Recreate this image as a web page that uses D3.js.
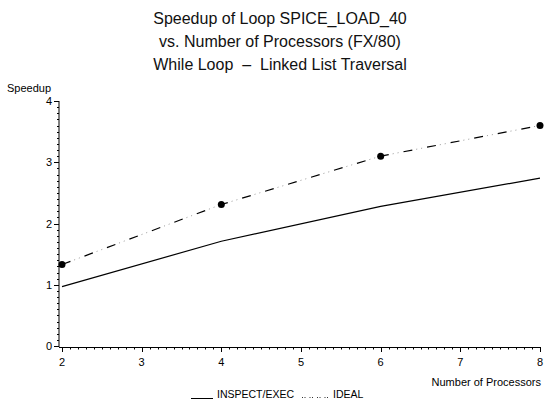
<!DOCTYPE html>
<html><head><meta charset="utf-8">
<script src="https://cdn.jsdelivr.net/npm/d3@7"></script>
<style>
html,body{margin:0;padding:0;background:#fff;}
svg{display:block;font-family:"Liberation Sans",Arial,sans-serif;}
</style></head>
<body>
<script>
const titleLines = ["Speedup of Loop SPICE_LOAD_40", "vs. Number of Processors (FX/80)", "While Loop \u00a0\u2013\u00a0 Linked List Traversal"];
const processors = [2, 4, 6, 8];
const inspectExec = [0.97, 1.71, 2.28, 2.74];
const ideal = [1.33, 2.31, 3.10, 3.60];
const xTicks = [2, 3, 4, 5, 6, 7, 8];
const yTicks = [0, 1, 2, 3, 4];
const seriesNames = ["INSPECT/EXEC", "IDEAL"];

const W = 547, H = 411;
const svg = d3.select("body").append("svg").attr("width", W).attr("height", H);

const x = d3.scaleLinear().domain([2, 8]).range([62, 540]);
const y = d3.scaleLinear().domain([0, 4]).range([346, 101]);

// title
const tl = [24, 47, 70];
titleLines.forEach((t, i) => {
  svg.append("text").attr("x", 280).attr("y", tl[i]).attr("text-anchor", "middle")
    .attr("font-size", 16).attr("fill", "#111").text(t);
});

// y axis
const yAxisX = 59;
const yAxis = svg.append("g");
yAxis.append("line").attr("x1", yAxisX).attr("x2", yAxisX).attr("y1", y(4)).attr("y2", 347).attr("stroke", "#000");
const yMinor = d3.range(0, 40).map(d => d / 10).filter(d => Math.abs(d - Math.round(d)) > 1e-6);
yAxis.selectAll("line.minor").data(yMinor).join("line").attr("class", "minor")
  .attr("x1", yAxisX - 2).attr("x2", yAxisX).attr("y1", d => Math.round(y(d)) + 0.5).attr("y2", d => Math.round(y(d)) + 0.5)
  .attr("stroke", "#000");
yAxis.selectAll("line.major").data(yTicks).join("line").attr("class", "major")
  .attr("x1", yAxisX - 5).attr("x2", yAxisX).attr("y1", d => Math.round(y(d)) + 0.5).attr("y2", d => Math.round(y(d)) + 0.5)
  .attr("stroke", "#000");
yAxis.selectAll("text").data(yTicks).join("text")
  .attr("x", yAxisX - 7).attr("y", d => y(d) + 4).attr("text-anchor", "end")
  .attr("font-size", 11).text(d => d);
svg.append("text").attr("x", 7).attr("y", 92).attr("font-size", 11).text("Speedup");

// x axis
const xAxisY = 347;
const xAxis = svg.append("g");
xAxis.append("line").attr("x1", yAxisX).attr("x2", x(8) + 1).attr("y1", xAxisY + 0.5).attr("y2", xAxisY + 0.5).attr("stroke", "#000");
const xMinor = d3.range(20, 80).map(d => d / 10).filter(d => Math.abs(d - Math.round(d)) > 1e-6);
xAxis.selectAll("line.minor").data(xMinor).join("line").attr("class", "minor")
  .attr("x1", d => Math.round(x(d)) + 0.5).attr("x2", d => Math.round(x(d)) + 0.5)
  .attr("y1", xAxisY).attr("y2", xAxisY + 2.5).attr("stroke", "#000");
xAxis.selectAll("line.major").data(xTicks).join("line").attr("class", "major")
  .attr("x1", d => Math.round(x(d)) + 0.5).attr("x2", d => Math.round(x(d)) + 0.5)
  .attr("y1", xAxisY).attr("y2", xAxisY + 5).attr("stroke", "#000");
xAxis.selectAll("text").data(xTicks).join("text")
  .attr("x", d => x(d)).attr("y", 366).attr("text-anchor", "middle")
  .attr("font-size", 11).text(d => d);
svg.append("text").attr("x", 541).attr("y", 386).attr("text-anchor", "end")
  .attr("font-size", 11).text("Number of Processors");

// lines
const line = d3.line().x(d => x(d[0])).y(d => y(d[1]));
const idealPts = processors.map((p, i) => [p, ideal[i]]);
svg.append("path").datum(processors.map((p, i) => [p, inspectExec[i]]))
  .attr("d", line).attr("fill", "none").attr("stroke", "#000").attr("stroke-width", 1.2);
// dashes
svg.append("path").datum(idealPts)
  .attr("d", line).attr("fill", "none").attr("stroke", "#000").attr("stroke-width", 1.2)
  .attr("stroke-dasharray", "9,15");
// faint dots between dashes
svg.append("path").datum(idealPts)
  .attr("d", line).attr("fill", "none").attr("stroke", "#999").attr("stroke-width", 1)
  .attr("stroke-dasharray", "1,4,1,18").attr("stroke-dashoffset", 11);
svg.selectAll("circle.ideal").data(idealPts).join("circle")
  .attr("class", "ideal").attr("cx", d => x(d[0])).attr("cy", d => y(d[1])).attr("r", 3.5).attr("fill", "#000");

// legend
const lg = svg.append("g");
lg.append("line").attr("x1", 191).attr("x2", 213).attr("y1", 398.5).attr("y2", 398.5).attr("stroke", "#000");
lg.append("text").attr("x", 217).attr("y", 398).attr("font-size", 10.5).text(seriesNames[0]);
lg.append("line").attr("x1", 302).attr("x2", 330).attr("y1", 397.5).attr("y2", 397.5).attr("stroke", "#333")
  .attr("stroke-dasharray", "1,1.5,1,4");
lg.append("text").attr("x", 333).attr("y", 398).attr("font-size", 10.5).text(seriesNames[1]);
</script>
</body></html>
